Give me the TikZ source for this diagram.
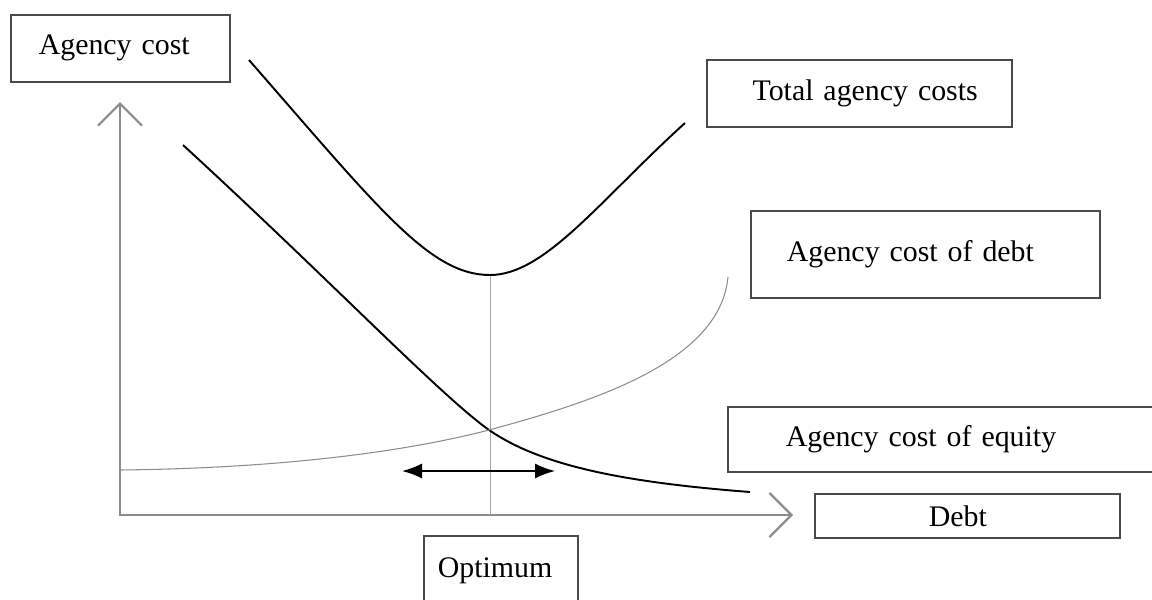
\documentclass[tikz,border=0pt]{standalone}
\usepackage{fontspec}
\setmainfont{Liberation Serif}
\usetikzlibrary{arrows.meta, positioning}
\definecolor{boxgray}{HTML}{4A4A4A}
\definecolor{axisgray}{HTML}{8C8C8C}
\tikzset{%
  tag/.style={draw=boxgray, line width=0.9pt, rectangle, anchor=north west,
    inner ysep=0pt, align=left, font=\fontsize{17}{20}\selectfont},
  axis/.style={draw=axisgray, line width=1.3pt},
  barb/.tip={Straight Barb[length=0.44cm, width=0.88cm]},
  cost/.style={line width=1.1pt},
  thin cost/.style={draw=axisgray, line width=0.6pt},
  guide/.style={draw=gray!70, line width=0.4pt},
  move/.style={line width=0.9pt, {Latex[length=0.4cm, width=0.3cm]}-{Latex[length=0.4cm, width=0.3cm]}}
}
\begin{document}
\begin{tikzpicture}[x=0.02cm, y=-0.02cm]
  \useasboundingbox (0,0) rectangle (1152,599);
  \coordinate (origin) at (120,515);
  \coordinate (ytip) at (120,102);
  \coordinate (xtip) at (793,515);
  \coordinate (optimum) at (490,275);
  \coordinate (cross) at (489,430);
  \coordinate (left end) at (402,471);
  \coordinate (right end) at (555,471);
  % axes
  \draw[axis, barb-barb] (ytip) -- (origin) -- (xtip);
  % optimum
  \draw[guide] (optimum) -- (optimum |- origin);
  \draw[move] (left end) -- (right end);
  % curves
  \draw[cost] (249,60) .. controls (380,210) and (430,275) .. (optimum)
    .. controls (545,275) and (600,200) .. (685,123);
  \draw[cost] (183,145) .. controls (330,280) and (440,395) .. (cross)
    .. controls (540,465) and (620,482) .. (750,492);
  \draw[thin cost] (120,470) .. controls (300,468) and (420,448) .. (cross)
    .. controls (600,400) and (720,360) .. (728,277);
  % labels
  \node[tag, minimum width=4.38cm, minimum height=1.34cm, inner xsep=0.56cm,
    text width=3.26cm] (cost) at (10,14) {Agency cost};
  \node[tag, minimum width=6.1cm, minimum height=1.34cm, inner xsep=0.68cm,
    text width=4.74cm, align=right] (total) at (706,59) {Total agency costs};
  \node[tag, minimum width=6.98cm, minimum height=1.74cm, inner xsep=0.72cm,
    text width=5.54cm] (debt cost) at (750,210) {Agency cost of debt};
  \node[tag, minimum width=8.6cm, minimum height=1.3cm, inner xsep=1.16cm,
    text width=6.28cm] (equity cost) at (727,406) {Agency cost of equity};
  \node[tag, minimum width=6.1cm, minimum height=0.88cm, inner xsep=2.28cm,
    text width=1.54cm] (debt) at (814,493) {Debt};
  \node[tag, minimum width=3.08cm, minimum height=1.4cm, inner xsep=0.28cm,
    text width=2.52cm] (opt) at (423,535) {Optimum};
\end{tikzpicture}
\end{document}
